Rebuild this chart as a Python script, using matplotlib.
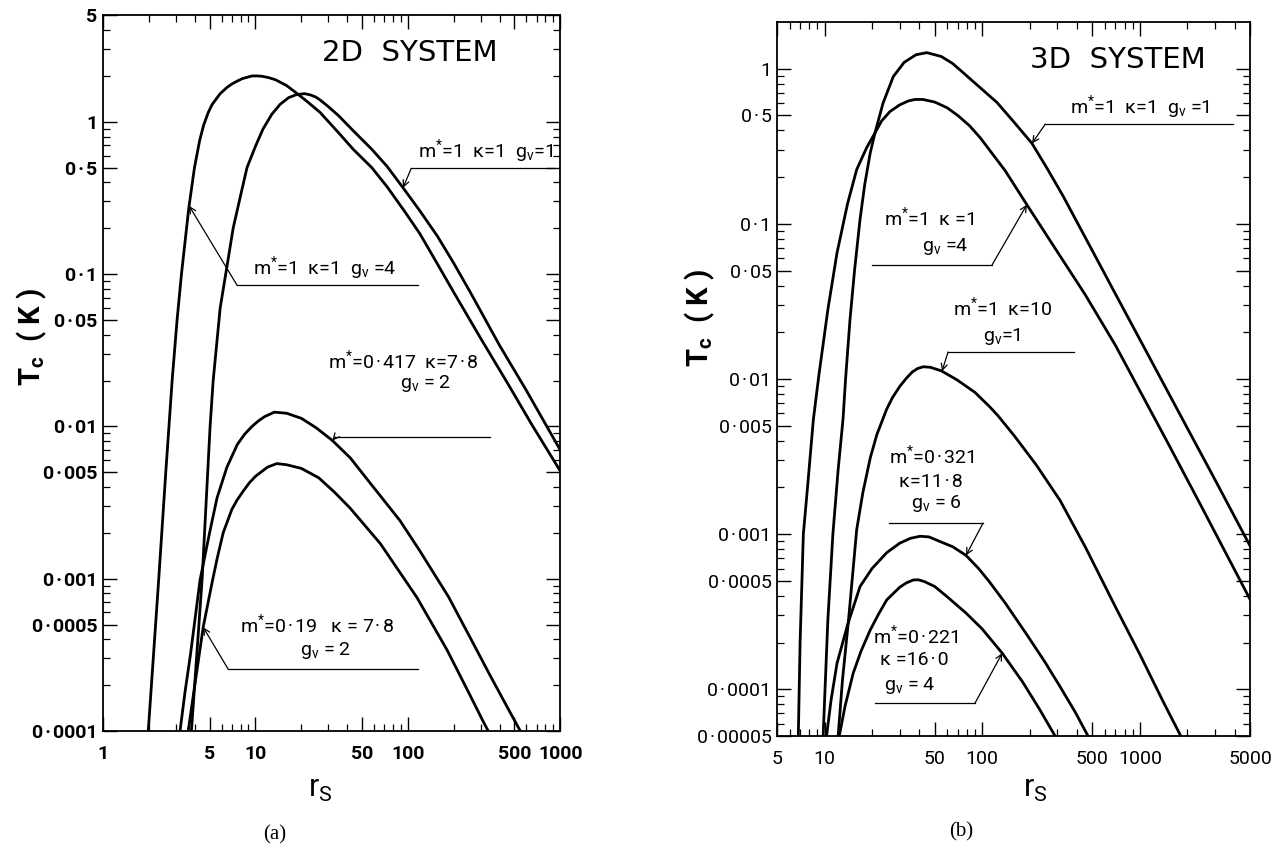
import numpy as np
import matplotlib.pyplot as plt
from matplotlib.ticker import NullFormatter

plt.rcParams['font.family'] = ['Roboto', 'DejaVu Sans']
plt.rcParams['mathtext.fontset'] = 'custom'
plt.rcParams['mathtext.rm'] = 'Roboto'
plt.rcParams['mathtext.it'] = 'Roboto:italic'
plt.rcParams['mathtext.bf'] = 'Roboto:bold'

# ---------------- (a) 2D system ----------------
# m*=1 k=1 gv=1
rs_2d_g1 = [3.8, 4.47, 5.04, 5.28, 5.87, 6.5, 7.14, 8.0, 8.8, 10.0, 11.2, 12.8, 14.5, 16.5, 18.5,
            21, 23, 25, 26.6, 30, 35, 44, 58, 73, 93, 120, 156, 200, 257, 400, 600, 1000]
tc_2d_g1 = [1e-4, 1e-3, 0.01, 0.02, 0.06, 0.112, 0.2, 0.33, 0.5, 0.69, 0.895, 1.12, 1.30, 1.44, 1.505,
            1.53, 1.50, 1.45, 1.39, 1.26, 1.10, 0.87, 0.66, 0.51, 0.369, 0.26, 0.178, 0.118, 0.076,
            0.034, 0.0172, 0.0070]
# m*=1 k=1 gv=4
rs_2d_g4 = [1.98, 2.32, 2.58, 2.84, 3.06, 3.27, 3.65, 3.98, 4.3, 4.57, 4.9, 5.2, 5.87, 6.5, 7.0, 7.6,
            8.2, 9.5, 10.3, 11.0, 12.2, 13.5, 16, 18.8, 22, 26.6, 35, 43.8, 58, 73, 95, 120, 160,
            200, 300, 450, 650, 1000]
tc_2d_g4 = [1e-4, 1e-3, 5e-3, 0.02, 0.05, 0.1, 0.27, 0.5, 0.75, 0.95, 1.15, 1.3, 1.53, 1.68, 1.77, 1.85,
            1.92, 2.0, 2.0, 1.99, 1.95, 1.89, 1.73, 1.53, 1.35, 1.15, 0.85, 0.66, 0.5, 0.375, 0.259,
            0.184, 0.112, 0.076, 0.038, 0.0193, 0.0103, 0.0051]
# m*=0.417 k=7.8 gv=2
rs_2d_417 = [3.2, 3.45, 3.75, 4.33, 5.0, 5.6, 6.5, 7.6, 8.5, 9.5, 10.5, 11.5, 13.3, 16, 20, 25, 31.9,
             42, 55, 66, 89, 120, 185, 260, 348, 450, 547]
tc_2d_417 = [1e-4, 1.8e-4, 3.2e-4, 9.8e-4, 2.0e-3, 3.4e-3, 5.4e-3, 7.6e-3, 8.9e-3, 0.0100, 0.0109,
             0.0116, 0.0124, 0.0122, 0.0113, 0.0098, 0.0081, 0.0062, 0.0044, 0.0035, 0.0024, 0.00152,
             0.00076, 0.0004, 0.00023, 0.000143, 1e-4]
# m*=0.19 k=7.8 gv=2
rs_2d_019 = [3.62, 4.0, 4.54, 5.2, 5.6, 6.14, 7.0, 7.6, 8.3, 9.1, 10, 12, 13.8, 16, 20, 26, 33, 41.9,
             66, 115, 181, 250, 313, 337]
tc_2d_019 = [1e-4, 2.0e-4, 4.8e-4, 9.5e-4, 1.35e-3, 2.0e-3, 2.85e-3, 3.3e-3, 3.75e-3, 4.25e-3, 4.7e-3,
             5.4e-3, 5.7e-3, 5.6e-3, 5.3e-3, 4.6e-3, 3.7e-3, 2.9e-3, 1.7e-3, 7.5e-4, 3.4e-4, 1.8e-4,
             1.15e-4, 1e-4]

# ---------------- (b) 3D system ----------------
# m*=1 k=1 gv=1
rs_3d_g1 = [9.8, 10.5, 11.3, 12.2, 13.1, 13.6, 14.5, 15.5, 16.8, 18, 19.5, 20.9, 23.5, 27.3, 32, 38,
            44.5, 55, 65, 75.5, 95, 124, 160, 207, 260, 325, 535, 726, 1000, 1849, 3000, 5000]
tc_3d_g1 = [5e-5, 2.8e-4, 1e-3, 2.6e-3, 5.5e-3, 0.01, 0.024, 0.05, 0.107, 0.18, 0.287, 0.386, 0.6,
            0.89, 1.1, 1.23, 1.27, 1.2, 1.08, 0.946, 0.77, 0.607, 0.45, 0.33, 0.225, 0.152, 0.059,
            0.033, 0.018, 0.0056, 0.00224, 0.00084]
# m*=1 k=1 gv=4
rs_3d_g4 = [6.82, 7.0, 7.34, 7.8, 8.5, 9.2, 10.5, 12, 14, 16, 18.5, 20.9, 23, 26, 30, 34, 37.5, 42,
            50, 60, 70, 83, 97, 140, 192, 300, 450, 700, 1000, 1500, 2500, 5000]
tc_3d_g4 = [5e-5, 2e-4, 1e-3, 2e-3, 5.5e-3, 0.0105, 0.028, 0.065, 0.135, 0.224, 0.31, 0.386, 0.46,
            0.53, 0.585, 0.62, 0.634, 0.634, 0.61, 0.56, 0.5, 0.43, 0.36, 0.22, 0.133, 0.066, 0.035,
            0.0165, 0.0084, 0.0039, 0.00146, 0.00038]
# m*=1 k=10 gv=1
rs_3d_k10 = [12.2, 13.0, 14.2, 16.0, 17.5, 19.5, 21.5, 24.8, 27, 30.1, 33, 36, 39, 42.4, 47, 55, 69,
             90, 112, 126, 160, 220, 312, 450, 700, 1000, 1400, 1800]
tc_3d_k10 = [5e-5, 1.15e-4, 2.8e-4, 1.07e-3, 1.85e-3, 3.1e-3, 4.4e-3, 6.4e-3, 7.6e-3, 9.0e-3, 0.0101,
             0.0111, 0.0117, 0.0120, 0.0119, 0.0113, 0.0099, 0.0082, 0.0066, 0.0058, 0.0043, 0.0028,
             0.00165, 0.00083, 0.00034, 0.000168, 8.4e-5, 5.1e-5]
# m*=0.321 k=11.8 gv=6
rs_3d_321 = [10.3, 11.0, 12.0, 14.0, 16.8, 20, 24.8, 30, 35, 40.4, 46, 55, 65, 79, 95, 110, 140,
             192, 250, 312, 390, 469]
tc_3d_321 = [5e-5, 8.5e-5, 1.47e-4, 2.6e-4, 4.6e-4, 6.0e-4, 7.6e-4, 8.75e-4, 9.4e-4, 9.7e-4, 9.6e-4,
             8.9e-4, 8.3e-4, 7.3e-4, 6.0e-4, 5.0e-4, 3.6e-4, 2.25e-4, 1.5e-4, 1.04e-4, 7.1e-5, 5e-5]
# m*=0.221 k=16.0 gv=4
rs_3d_221 = [12.4, 13.5, 15.2, 17, 19.45, 22, 24.8, 30, 33, 36.6, 39.5, 43, 50, 60, 79, 100, 134,
             180, 230, 290]
tc_3d_221 = [5e-5, 7.8e-5, 1.27e-4, 1.75e-4, 2.4e-4, 3.05e-4, 3.77e-4, 4.55e-4, 4.85e-4, 5.07e-4,
             5.08e-4, 4.95e-4, 4.6e-4, 3.95e-4, 3.1e-4, 2.45e-4, 1.71e-4, 1.12e-4, 7.5e-5, 5e-5]

# axis ticks (decimal point printed as a middle dot, as in the original)
D = '\u200a·\u200a'
x_ticks_2d = [1, 5, 10, 50, 100, 500, 1000]
x_labels_2d = ['1', '5', '10', '50', '100', '500', '1000']
y_ticks_2d = [0.0001, 0.0005, 0.001, 0.005, 0.01, 0.05, 0.1, 0.5, 1, 5]
y_labels_2d = ['0' + D + '0001', '0' + D + '0005', '0' + D + '001', '0' + D + '005', '0' + D + '01',
               '0' + D + '05', '0' + D + '1', '0' + D + '5', '1', '5']
x_ticks_3d = [5, 10, 50, 100, 500, 1000, 5000]
x_labels_3d = ['5', '10', '50', '100', '500', '1000', '5000']
y_ticks_3d = [0.00005, 0.0001, 0.0005, 0.001, 0.005, 0.01, 0.05, 0.1, 0.5, 1]
y_labels_3d = ['0' + D + '00005', '0' + D + '0001', '0' + D + '0005', '0' + D + '001', '0' + D + '005',
               '0' + D + '01', '0' + D + '05', '0' + D + '1', '0' + D + '5', '1']


def minor_ticks(lo, hi):
    out = []
    for e in range(int(np.floor(np.log10(lo))) - 1, int(np.ceil(np.log10(hi))) + 1):
        for m in (2, 3, 4, 6, 7, 8, 9):
            v = m * 10.0 ** e
            if lo < v < hi:
                out.append(v)
    return out


def on_curve(xs, ys, x0):
    return 10 ** np.interp(np.log10(x0), np.log10(xs), np.log10(ys))


def setup(ax, xlim, ylim, xt, xl, yt, yl, weight):
    ax.set_xscale('log')
    ax.set_yscale('log')
    ax.set_xlim(*xlim)
    ax.set_ylim(*ylim)
    ax.set_xticks(xt, xl)
    ax.set_yticks(yt, yl)
    ax.set_xticks(minor_ticks(*xlim), minor=True)
    ax.set_yticks(minor_ticks(*ylim), minor=True)
    ax.xaxis.set_minor_formatter(NullFormatter())
    ax.yaxis.set_minor_formatter(NullFormatter())
    ax.tick_params(which='both', direction='in', top=True, right=True, labelsize=14)
    ax.tick_params(which='major', length=10, width=1.0)
    ax.tick_params(which='minor', length=5, width=0.9)
    ax.tick_params(axis='x', pad=10)
    ax.tick_params(axis='y', pad=4)
    for lbl in ax.get_xticklabels() + ax.get_yticklabels():
        lbl.set_fontweight(weight)
    for s in ax.spines.values():
        s.set_linewidth(1.3)


def leader(ax, xs, ys, tip_x, elbow, seg_end):
    tip = (tip_x, on_curve(xs, ys, tip_x))
    ax.annotate('', xy=tip, xycoords='data', xytext=elbow, textcoords='axes fraction',
                arrowprops=dict(arrowstyle='->', lw=0.9, color='black', shrinkA=0, shrinkB=0,
                                mutation_scale=11))
    ax.plot([elbow[0], seg_end], [elbow[1], elbow[1]], transform=ax.transAxes,
            color='black', lw=0.9, clip_on=False)


def label(ax, x, y, s):
    ax.text(x, y, s, transform=ax.transAxes, ha='center', va='center', fontsize=14)


fig = plt.figure(figsize=(12.77, 8.51), dpi=100)
ax1 = fig.add_axes([0.0807, 0.141, 0.358, 0.841])
ax2 = fig.add_axes([0.6085, 0.1351, 0.3704, 0.839])

line_kw = dict(color='black', lw=2.0, solid_joinstyle='round')

# (a)
setup(ax1, (1, 1000), (0.0001, 5), x_ticks_2d, x_labels_2d, y_ticks_2d, y_labels_2d, 'bold')
for xs, ys in [(rs_2d_g1, tc_2d_g1), (rs_2d_g4, tc_2d_g4), (rs_2d_417, tc_2d_417), (rs_2d_019, tc_2d_019)]:
    ax1.plot(xs, ys, **line_kw)

ax1.text(0.672, 0.948, '2D  SYSTEM', transform=ax1.transAxes, ha='center', va='center',
         fontsize=21, family='DejaVu Sans')

label(ax1, 0.836, 0.811, 'm$^{*}$=1  κ=1  g$_{\\rm v}$=1')
leader(ax1, rs_2d_g1, tc_2d_g1, 93, (0.674, 0.786), 0.987)

label(ax1, 0.486, 0.647, 'm$^{*}$=1  κ=1  g$_{\\rm v}$ =4')
leader(ax1, rs_2d_g4, tc_2d_g4, 3.67, (0.293, 0.623), 0.689)

label(ax1, 0.656, 0.518, 'm$^{*}$=0' + D + '417  κ=7' + D + '8')
label(ax1, 0.705, 0.486, 'g$_{\\rm v}$ = 2')
leader(ax1, rs_2d_417, tc_2d_417, 32, (0.508, 0.4106), 0.847)

label(ax1, 0.468, 0.149, 'm$^{*}$=0' + D + '19   κ = 7' + D + '8')
label(ax1, 0.486, 0.113, 'g$_{\\rm v}$ = 2')
leader(ax1, rs_2d_019, tc_2d_019, 4.54, (0.2735, 0.0866), 0.689)

# (b)
setup(ax2, (5, 5000), (0.00005, 2), x_ticks_3d, x_labels_3d, y_ticks_3d, y_labels_3d, 'normal')
for xs, ys in [(rs_3d_g1, tc_3d_g1), (rs_3d_g4, tc_3d_g4), (rs_3d_k10, tc_3d_k10),
               (rs_3d_321, tc_3d_321), (rs_3d_221, tc_3d_221)]:
    ax2.plot(xs, ys, **line_kw)

ax2.text(0.721, 0.947, '3D  SYSTEM', transform=ax2.transAxes, ha='center', va='center',
         fontsize=21, family='DejaVu Sans')

label(ax2, 0.767, 0.881, 'm$^{*}$=1  κ=1  g$_{\\rm v}$ =1')
leader(ax2, rs_3d_g1, tc_3d_g1, 207, (0.567, 0.857), 0.964)

label(ax2, 0.321, 0.727, 'm$^{*}$=1  κ =1')
label(ax2, 0.355, 0.685, 'g$_{\\rm v}$ =4')
leader(ax2, rs_3d_g4, tc_3d_g4, 192, (0.4545, 0.6597), 0.201)

label(ax2, 0.478, 0.601, 'm$^{*}$=1  κ=10')
label(ax2, 0.476, 0.559, 'g$_{\\rm v}$=1')
leader(ax2, rs_3d_k10, tc_3d_k10, 55.6, (0.3615, 0.5378), 0.628)

label(ax2, 0.326, 0.3936, 'm$^{*}$=0' + D + '321')
label(ax2, 0.326, 0.356, 'κ=11' + D + '8')
label(ax2, 0.336, 0.326, 'g$_{\\rm v}$ = 6')
leader(ax2, rs_3d_321, tc_3d_321, 79, (0.4355, 0.2983), 0.237)

label(ax2, 0.292, 0.1415, 'm$^{*}$=0' + D + '221')
label(ax2, 0.290, 0.1064, 'κ =16' + D + '0')
label(ax2, 0.281, 0.0714, 'g$_{\\rm v}$ = 4')
leader(ax2, rs_3d_221, tc_3d_221, 134, (0.4186, 0.0462), 0.207)

# axis titles and panel letters
fig.text(0.025, 0.604, 'T$_{\\mathbf{c}}$  ( K )', rotation=90, fontsize=21, fontweight='bold',
         ha='center', va='center')
fig.text(0.548, 0.626, 'T$_{\\mathbf{c}}$  ( K )', rotation=90, fontsize=21, fontweight='bold',
         ha='center', va='center')
fig.text(0.2506, 0.0717, 'r$_{\\rm S}$', fontsize=22, ha='center', va='center')
fig.text(0.811, 0.0717, 'r$_{\\rm S}$', fontsize=22, ha='center', va='center')
fig.text(0.2153, 0.0188, '(a)', fontsize=15, family='Liberation Serif', ha='center', va='center')
fig.text(0.7525, 0.0223, '(b)', fontsize=15, family='Liberation Serif', ha='center', va='center')

fig.savefig('out.png', dpi=100)
